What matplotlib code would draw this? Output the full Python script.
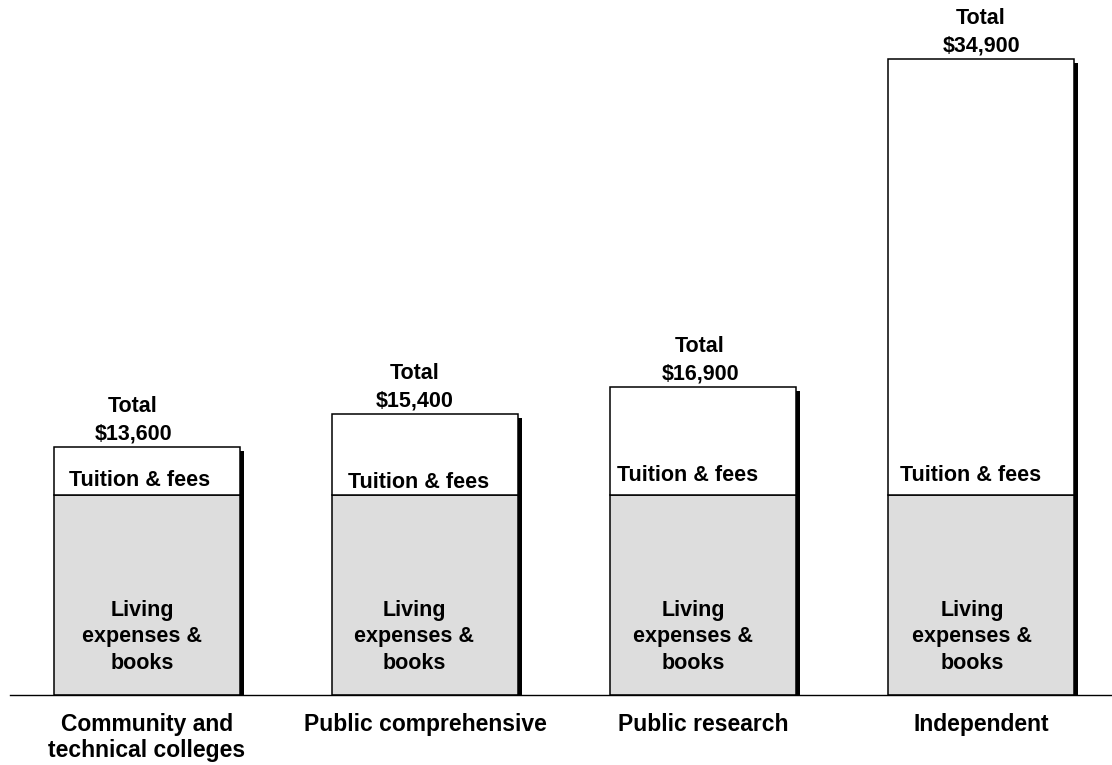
import matplotlib
matplotlib.use("Agg")
import matplotlib.pyplot as plt
import matplotlib.patheffects as pe

plt.rcParams['font.family'] = ['Liberation Sans', 'DejaVu Sans']
plt.rcParams['font.weight'] = 'bold'

categories = ["Community and\ntechnical colleges", "Public comprehensive",
              "Public research", "Independent"]
living = [11000, 11000, 11000, 11000]
tuition = [2600, 4400, 5900, 23900]
totals = [13600, 15400, 16900, 34900]
total_labels = ["Total\n$13,600", "Total\n$15,400", "Total\n$16,900", "Total\n$34,900"]

# label nudges in pixels (layout only)
total_dx = [-14, -10, -3, 0]
tuition_dx = [-7, -6, -15, -10]
tuition_dy = [-3, -5, 2, 2]
living_dx = [-5, -11, -10, -9]

PX = 72 / 100  # points per pixel

fig = plt.figure(figsize=(11.12, 7.65), dpi=100)
ax = fig.add_axes([10/1112, 70/765, 1102/1112, 695/765])

x = list(range(len(categories)))
w = 0.669

# shadow
ax.bar(x, totals, w, color='none', edgecolor='none', zorder=1,
       path_effects=[pe.SimplePatchShadow(offset=(3, -2.5), shadow_rgbFace='black', alpha=1)])
ax.bar(x, living, w, color='#dddddd', edgecolor='black', linewidth=1.1, zorder=2)
ax.bar(x, tuition, w, bottom=living, color='white', edgecolor='black', linewidth=1.1, zorder=2)

for i, (xi, lv, tot, tl) in enumerate(zip(x, living, totals, total_labels)):
    ax.annotate("Living\nexpenses &\nbooks", (xi, lv * 0.29),
                xytext=(living_dx[i] * PX, 0), textcoords='offset points',
                ha='center', va='center', fontsize=15.5, fontweight='bold',
                linespacing=1.35, zorder=3)
    ax.annotate("Tuition & fees", (xi, lv + 950),
                xytext=(tuition_dx[i] * PX, tuition_dy[i] * PX), textcoords='offset points',
                ha='center', va='center', fontsize=15.5, fontweight='bold', zorder=3)
    ax.annotate(tl, (xi, tot), xytext=(total_dx[i] * PX, 2), textcoords='offset points',
                ha='center', va='bottom', fontsize=15.5, fontweight='bold',
                linespacing=1.4)

ax.set_xlim(-0.493, 3.471)
ax.set_ylim(0, 38150)
ax.set_xticks(x)
ax.set_xticklabels(categories, fontsize=16.5, fontweight='bold', linespacing=1.15)
ax.tick_params(axis='x', length=0, pad=13)
ax.set_yticks([])
for s in ['top', 'right', 'left']:
    ax.spines[s].set_visible(False)
ax.spines['bottom'].set_linewidth(1.0)
ax.patch.set_alpha(0)

fig.savefig("out.png", dpi=100)
